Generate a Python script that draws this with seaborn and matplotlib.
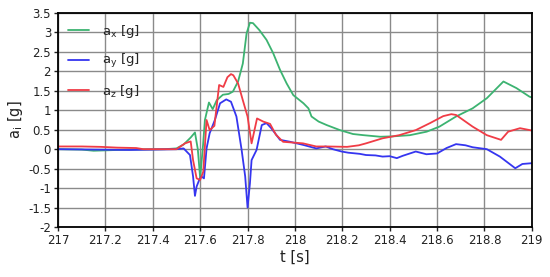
import numpy as np
import pandas as pd
import matplotlib
matplotlib.use("Agg")
import matplotlib.pyplot as plt
import seaborn as sns

# acceleration components
t_x = [217.0, 217.1, 217.15, 217.2, 217.3, 217.45, 217.5, 217.53, 217.56, 217.578, 217.59,
       217.6, 217.612, 217.62, 217.637, 217.653, 217.67, 217.696, 217.72, 217.738, 217.76,
       217.78, 217.796, 217.81, 217.823, 217.85, 217.88, 217.908, 217.937, 217.965, 217.993,
       218.036, 218.057, 218.07, 218.1, 218.134, 218.19, 218.245, 218.29, 218.36, 218.414,
       218.485, 218.556, 218.61, 218.68, 218.75, 218.81, 218.88, 218.935, 218.99, 219.0]
a_x = [0.0, -0.01, -0.04, -0.03, -0.01, 0.0, 0.02, 0.12, 0.3, 0.43, 0.0,
       -0.74, 0.1, 0.75, 1.2, 1.03, 1.26, 1.4, 1.42, 1.48, 1.74,
       2.2, 2.98, 3.25, 3.24, 3.06, 2.81, 2.47, 2.04, 1.69, 1.39,
       1.18, 1.05, 0.84, 0.71, 0.62, 0.49, 0.39, 0.36, 0.32, 0.33,
       0.36, 0.45, 0.58, 0.84, 1.05, 1.31, 1.74, 1.57, 1.35, 1.33]

t_y = [217.0, 217.3, 217.5, 217.53, 217.557, 217.57, 217.578, 217.585, 217.596, 217.605,
       217.616, 217.627, 217.64, 217.662, 217.684, 217.71, 217.73, 217.753, 217.775, 217.79,
       217.8, 217.81, 217.817, 217.838, 217.86, 217.88, 217.9, 217.937, 217.98, 218.035,
       218.09, 218.13, 218.16, 218.197, 218.225, 218.274, 218.3, 218.34, 218.37, 218.4,
       218.43, 218.455, 218.48, 218.51, 218.555, 218.6, 218.64, 218.68, 218.72, 218.75,
       218.81, 218.865, 218.93, 218.96, 219.0]
a_y = [0.0, -0.02, 0.0, 0.02, -0.15, -0.7, -1.2, -0.96, -0.79, -0.7,
       -0.75, 0.02, 0.41, 0.75, 1.18, 1.28, 1.22, 0.84, -0.02, -0.7,
       -1.5, -0.88, -0.28, -0.02, 0.62, 0.67, 0.54, 0.24, 0.19, 0.11,
       0.02, 0.07, 0.0, -0.06, -0.09, -0.12, -0.15, -0.16, -0.19, -0.18,
       -0.23, -0.17, -0.12, -0.06, -0.13, -0.11, 0.03, 0.13, 0.1, 0.05,
       0.0, -0.19, -0.49, -0.38, -0.36]

t_z = [217.0, 217.1, 217.18, 217.25, 217.33, 217.36, 217.5, 217.536, 217.56, 217.57,
       217.585, 217.6, 217.613, 217.627, 217.64, 217.66, 217.68, 217.698, 217.715, 217.73,
       217.74, 217.76, 217.78, 217.8, 217.817, 217.84, 217.866, 217.895, 217.92, 217.95,
       218.034, 218.09, 218.134, 218.22, 218.27, 218.3, 218.37, 218.44, 218.51, 218.57,
       218.626, 218.66, 218.68, 218.75, 218.81, 218.87, 218.9, 218.95, 219.0]
a_z = [0.07, 0.07, 0.06, 0.04, 0.03, 0.0, 0.0, 0.15, 0.2, -0.28,
       -0.75, -0.79, -0.58, 0.75, 0.49, 0.6, 1.65, 1.6, 1.85, 1.93,
       1.9, 1.69, 1.26, 0.84, 0.15, 0.79, 0.71, 0.65, 0.37, 0.19,
       0.15, 0.07, 0.07, 0.06, 0.1, 0.15, 0.28, 0.36, 0.49, 0.67,
       0.85, 0.9, 0.88, 0.58, 0.36, 0.24, 0.45, 0.54, 0.48]

labels = [r"a$_\mathregular{x}$ [g]", r"a$_\mathregular{y}$ [g]", r"a$_\mathregular{z}$ [g]"]
colors = ["#3cb371", "#3535f0", "#f03c46"]

df = pd.concat([
    pd.DataFrame({"t": t_x, "a": a_x, "comp": labels[0]}),
    pd.DataFrame({"t": t_y, "a": a_y, "comp": labels[1]}),
    pd.DataFrame({"t": t_z, "a": a_z, "comp": labels[2]}),
])

sns.set_style("white")
plt.rcParams["font.family"] = ["DejaVu Sans"]

fig = plt.figure(figsize=(5.5, 2.77), dpi=100)
ax = fig.add_axes([0.1055, 0.1805, 0.8615, 0.7725])

sns.lineplot(data=df, x="t", y="a", hue="comp", palette=colors, sort=False,
             estimator=None, linewidth=1.3, ax=ax)

ax.set_xlim(217, 219)
ax.set_ylim(-2, 3.5)
ax.set_xticks(np.arange(217, 219.01, 0.2))
ax.set_xticklabels(["217", "217.2", "217.4", "217.6", "217.8", "218", "218.2", "218.4",
                    "218.6", "218.8", "219"])
ax.set_yticks(np.arange(-2, 3.51, 0.5))
ax.set_yticklabels(["-2", "-1.5", "-1", "-0.5", "0", "0.5", "1", "1.5", "2", "2.5", "3", "3.5"])
ax.grid(True, color="#8a8a8a", linewidth=1.0)
ax.set_axisbelow(True)
for s in ax.spines.values():
    s.set_color("black")
    s.set_linewidth(1.3)
ax.tick_params(axis="both", labelsize=8.5, colors="#222222", length=3, width=1,
               direction="out", bottom=True, left=True, pad=2)

ax.set_xlabel("t [s]", fontsize=10.5, color="#222222", labelpad=2)
ax.set_ylabel(r"a$_\mathregular{i}$ [g]", fontsize=10.5, color="#222222", labelpad=2)

leg = ax.legend(loc="upper left", frameon=False, fontsize=9.5, handlelength=1.6,
                labelspacing=0.95, borderaxespad=0.35, handletextpad=1.0)

fig.savefig("out.png", dpi=100)
